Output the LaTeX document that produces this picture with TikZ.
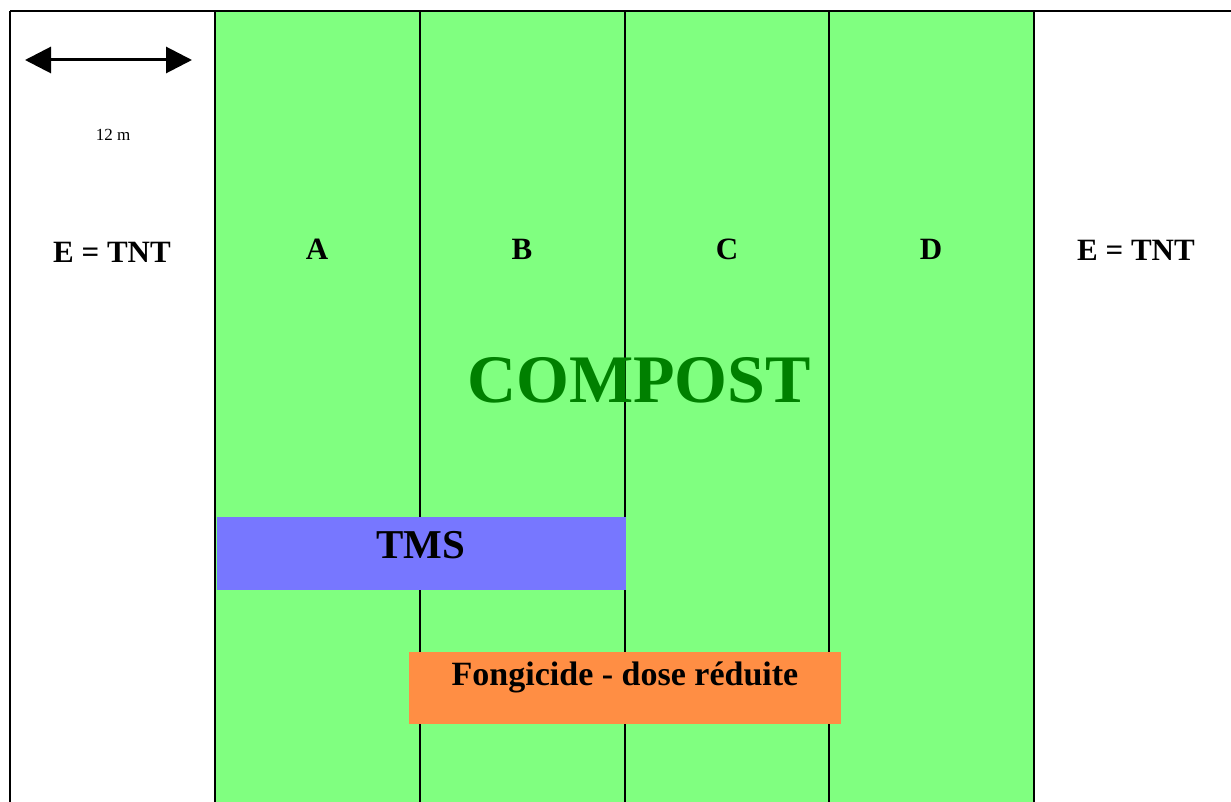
\documentclass[tikz,border=0pt]{standalone}
\usepackage{fontspec}
\setmainfont{Liberation Serif}
\usetikzlibrary{arrows.meta}
\definecolor{stripgreen}{RGB}{128,255,128}
\definecolor{tmsblue}{RGB}{119,119,255}
\definecolor{fongorange}{RGB}{255,142,68}
\definecolor{compostgreen}{RGB}{0,128,0}
\tikzset{
  gridline/.style={line width=2pt, draw=black},
  lbl/.style={anchor=base, inner sep=0pt, font=\bfseries\fontsize{31}{31}\selectfont},
}
\begin{document}
\begin{tikzpicture}[x=1pt,y=-1pt]
\useasboundingbox (0,0) rectangle (1231,802);
\fill[white] (0,0) rectangle (1231,802);
% green strips
\fill[stripgreen] (215,11) rectangle (1034,802);
% grid lines
\draw[gridline] (10,11) -- (1231,11);
\foreach \x in {10,215,420,625,829,1034} \draw[gridline] (\x,11) -- (\x,802);
% boxes
\fill[tmsblue] (217,517) rectangle (626,590);
\fill[fongorange] (409,652) rectangle (841,724);
% scale arrow
\coordinate (al) at (25,60);
\coordinate (ar) at (192,60);
\draw[line width=3pt, {Triangle[length=26pt,width=26pt]}-{Triangle[length=26pt,width=26pt]}] (al) -- (ar);
\node[anchor=base, inner sep=0pt, font=\fontsize{17}{17}\selectfont] (scale) at (113,141) {12 m};
% labels
\node[lbl] (el) at (112,263) {E = TNT};
\node[lbl] (er) at (1136,261) {E = TNT};
\node[lbl] (A) at (317,260) {A};
\node[lbl] (B) at (522,260) {B};
\node[lbl] (C) at (727,260) {C};
\node[lbl] (D) at (931,260) {D};
\node[anchor=base, inner sep=0pt, text=compostgreen, font=\bfseries\fontsize{68}{68}\selectfont] (compost) at (639,402) {COMPOST};
\node[anchor=base, inner sep=0pt, font=\bfseries\fontsize{41}{41}\selectfont] (tms) at (421,558) {TMS};
\node[anchor=base, inner sep=0pt, font=\bfseries\fontsize{34}{34}\selectfont] (fong) at (625,685) {Fongicide - dose réduite};
\end{tikzpicture}
\end{document}
